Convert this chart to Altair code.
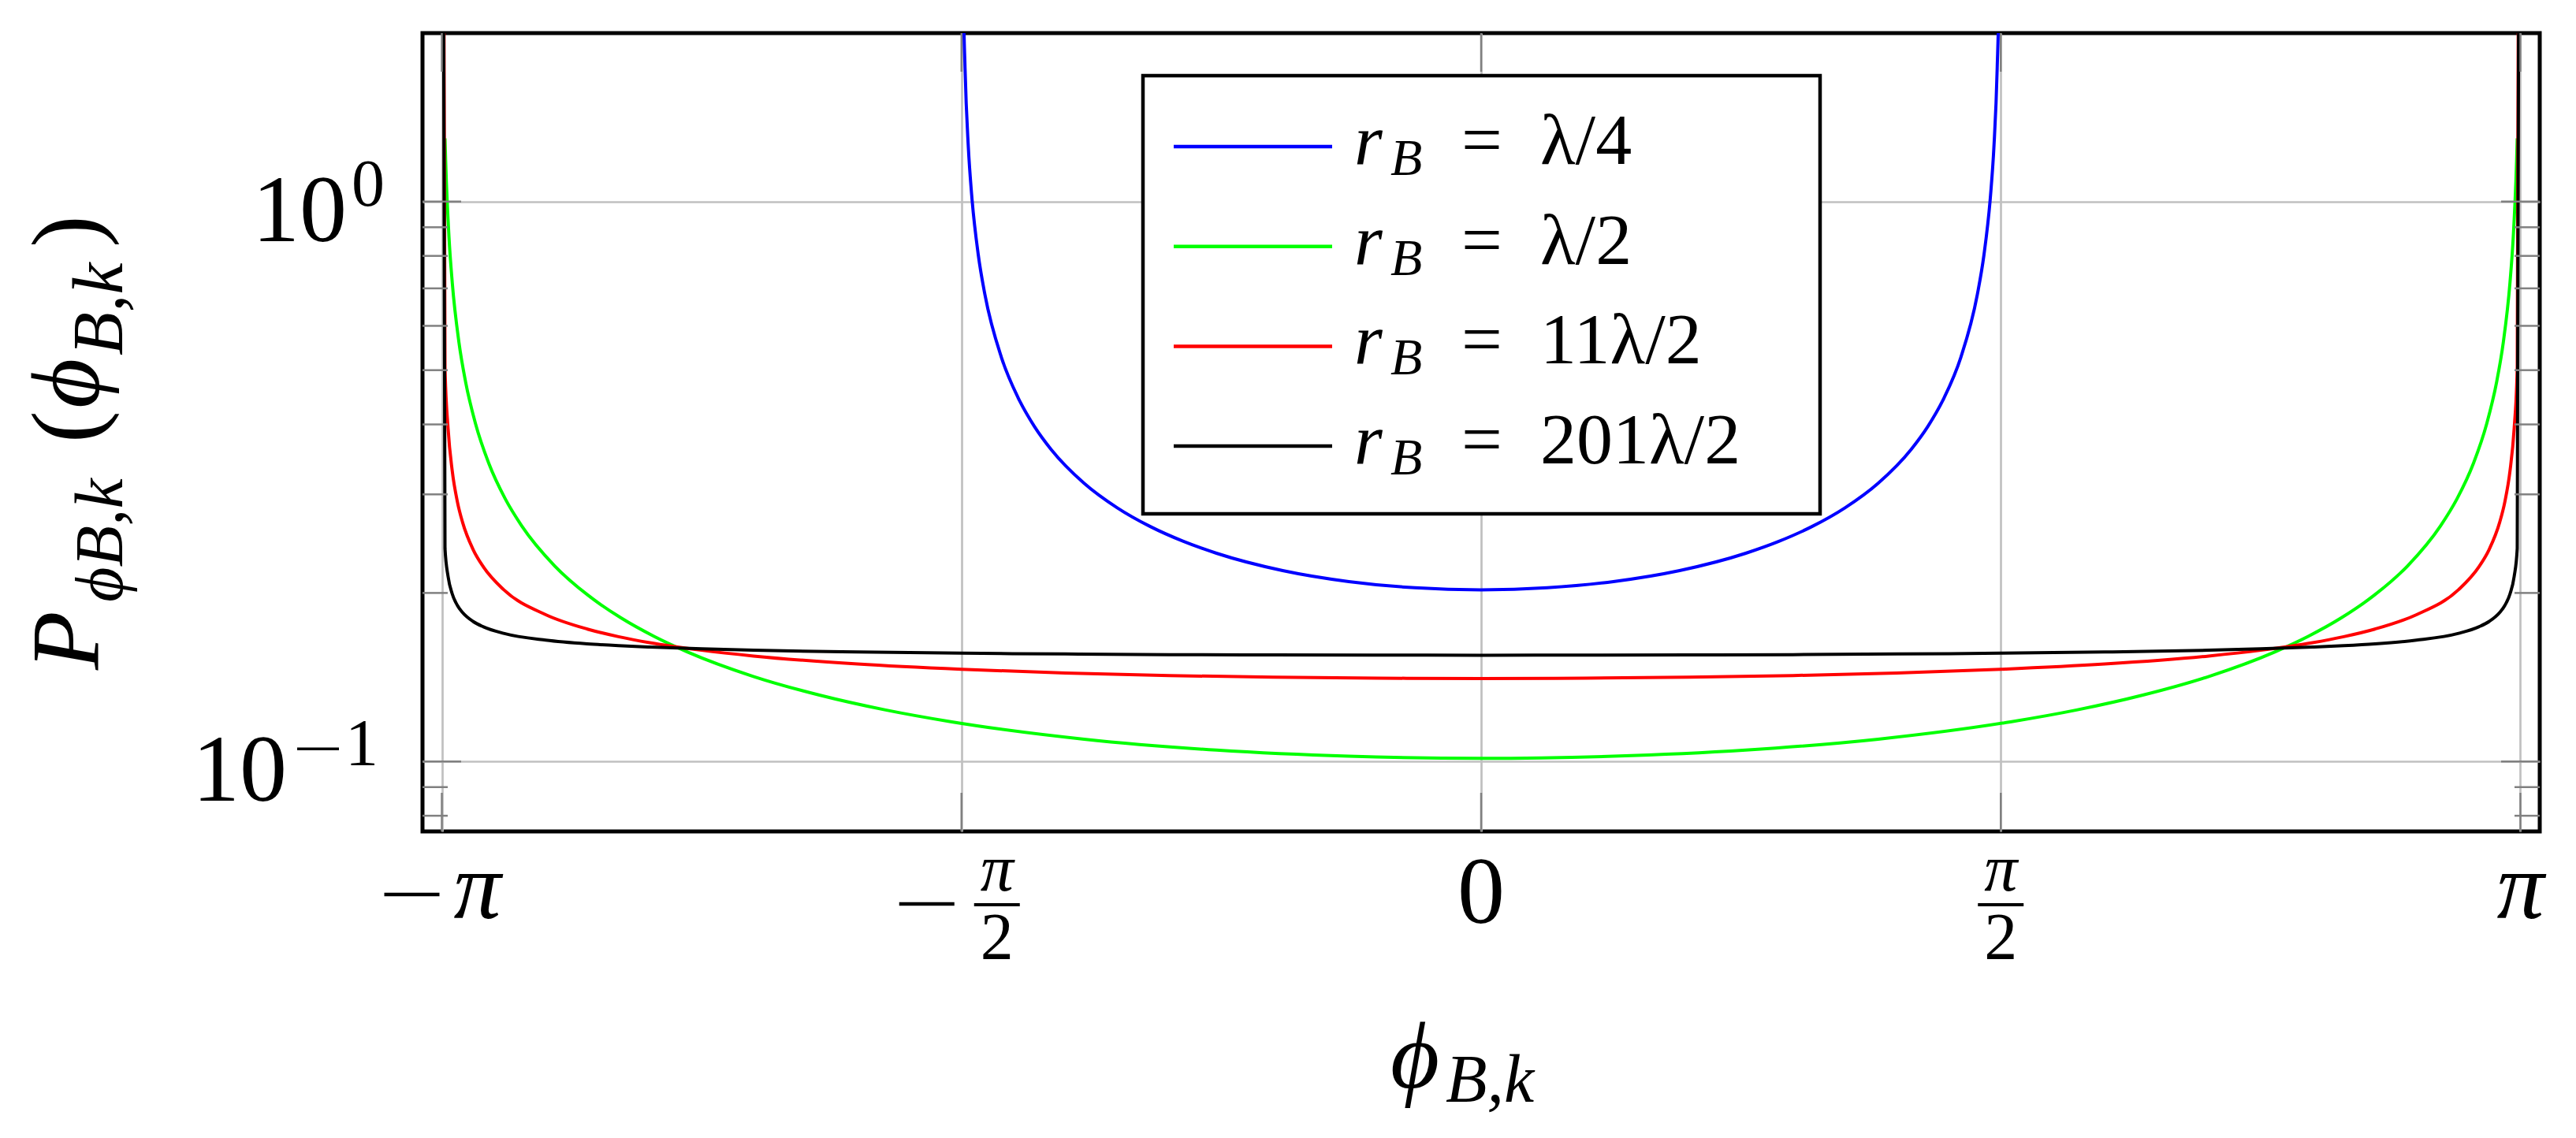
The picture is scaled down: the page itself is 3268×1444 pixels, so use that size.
import altair as alt
import pandas as pd

# ---------------- data ----------------
SERIES = ["rB = λ/4", "rB = λ/2", "rB = 11λ/2", "rB = 201λ/2"]
SERIES_VALUE = ["λ/4", "λ/2", "11λ/2", "201λ/2"]
COLORS = ["#0000ff", "#00ff00", "#ff0000", "#000000"]

BLUE_X = [-1.57, -1.565, -1.56, -1.55, -1.54, -1.52, -1.5, -1.45, -1.4, -1.35, -1.3, -1.2, -1.1, -1.0, -0.9, -0.8,
          -0.6, -0.4, -0.2, 0.0, 0.2, 0.4, 0.6, 0.8, 0.9, 1.0, 1.1, 1.2, 1.3, 1.35, 1.4, 1.45, 1.5, 1.52, 1.54,
          1.55, 1.56, 1.565, 1.57]
BLUE_Y = [6.366, 2.361, 1.7317, 1.2494, 1.0284, 0.8034, 0.6826, 0.5269, 0.4469, 0.3964, 0.3610, 0.3140, 0.2839,
          0.2628, 0.2473, 0.2355, 0.2193, 0.2096, 0.2043, 0.2026, 0.2043, 0.2096, 0.2193, 0.2355, 0.2473, 0.2628,
          0.2839, 0.3140, 0.3610, 0.3964, 0.4469, 0.5269, 0.6826, 0.8034, 1.0284, 1.2494, 1.7317, 2.361, 6.366]

GREEN_X = [-3.132, -3.13, -3.12, -3.11, -3.09, -3.07, -3.04, -3.0, -2.95, -2.9, -2.8, -2.7, -2.6, -2.5, -2.4, -2.2,
           -2.0, -1.8, -1.6, -1.2, -0.8, -0.4, 0.0, 0.4, 0.8, 1.2, 1.6, 1.8, 2.0, 2.2, 2.4, 2.5, 2.6, 2.7, 2.8, 2.9,
           2.95, 3.0, 3.04, 3.07, 3.09, 3.11, 3.12, 3.13, 3.132]
GREEN_Y = [1.2975, 1.1806, 0.8657, 0.7163, 0.5614, 0.4773, 0.4017, 0.3413, 0.2946, 0.2635, 0.2234, 0.1982, 0.1805,
           0.1673, 0.1570, 0.1419, 0.1314, 0.1236, 0.1177, 0.1096, 0.1048, 0.1022, 0.1013, 0.1022, 0.1048, 0.1096,
           0.1177, 0.1236, 0.1314, 0.1419, 0.1570, 0.1673, 0.1805, 0.1982, 0.2234, 0.2635, 0.2946, 0.3413, 0.4017,
           0.4773, 0.5614, 0.7163, 0.8657, 1.1806, 1.2975]

WIDE_X = [-3.1415, -3.132, -3.1227, -3.1102, -3.0945, -3.0788, -3.0473, -3.0159, -2.9549, -2.8274, -2.7018, -2.6075,
          -2.5133, -2.3562, -2.1991, -1.885, -1.5708, -1.2566, -0.9425, -0.6283, -0.3142, 0.0, 0.3142, 0.6283, 0.9425,
          1.2566, 1.5708, 1.885, 2.1991, 2.3562, 2.5133, 2.6075, 2.7018, 2.8274, 2.9549, 3.0159, 3.0473, 3.0788,
          3.0945, 3.1102, 3.1227, 3.132, 3.1415]
RED_Y = [40.0, 0.5055, 0.3934, 0.3306, 0.2909, 0.2673, 0.2393, 0.2226, 0.2028, 0.1829, 0.1724, 0.1671, 0.1630, 0.1580,
         0.1543, 0.1493, 0.1461, 0.1439, 0.1424, 0.1414, 0.1409, 0.1407, 0.1409, 0.1414, 0.1424, 0.1439, 0.1461,
         0.1493, 0.1543, 0.1580, 0.1630, 0.1671, 0.1724, 0.1829, 0.2028, 0.2226, 0.2393, 0.2673, 0.2909, 0.3306,
         0.3934, 0.5055, 40.0]
BLACK_Y = [40.0, 0.2402, 0.2140, 0.1993, 0.1900, 0.1845, 0.1779, 0.1740, 0.1694, 0.1647, 0.1622, 0.1610, 0.1601,
           0.1589, 0.1580, 0.1569, 0.1561, 0.1556, 0.1552, 0.1550, 0.1549, 0.1548, 0.1549, 0.1550, 0.1552, 0.1556,
           0.1561, 0.1569, 0.1580, 0.1589, 0.1601, 0.1610, 0.1622, 0.1647, 0.1694, 0.1740, 0.1779, 0.1845, 0.1900,
           0.1993, 0.2140, 0.2402, 40.0]

XTICK_VALUES = [-3.14159265, -1.57079633, 0.0, 1.57079633, 3.14159265]
XTICK_TEXT = ["−π", "−π/2", "0", "π/2", "π"]
YTICK_VALUES = [1.0, 0.1]
YTICK_EXP = ["0", "−1"]
YMINOR_VALUES = [0.08, 0.09, 0.2, 0.3, 0.4, 0.5, 0.6, 0.7, 0.8, 0.9]

# ---------------- tables ----------------
rows = []
for name, xs, ys in [(SERIES[0], BLUE_X, BLUE_Y), (SERIES[1], GREEN_X, GREEN_Y),
                     (SERIES[2], WIDE_X, RED_Y), (SERIES[3], WIDE_X, BLACK_Y)]:
    for xv, yv in zip(xs, ys):
        rows.append({"series": name, "x": xv, "y": yv})
curve_df = pd.DataFrame(rows)
xt_df = pd.DataFrame({"v": XTICK_VALUES, "label": XTICK_TEXT, "i": list(range(len(XTICK_VALUES)))})
yt_df = pd.DataFrame({"v": YTICK_VALUES, "exp": YTICK_EXP})
ymin_df = pd.DataFrame({"v": YMINOR_VALUES})
leg_df = pd.DataFrame({"series": SERIES, "value": SERIES_VALUE, "i": list(range(len(SERIES)))})
one = pd.DataFrame({"a": [0]})

# ---------------- styling ----------------
W, H = 2686, 1013
FONT = "Liberation Serif, DejaVu Serif, serif"
GRID = "#c0c0c0"
TICK = "#808080"

xscale = alt.Scale(domain=[-3.2, 3.2], nice=False, zero=False)
yscale = alt.Scale(type="log", domain=[0.075, 2.0], nice=False)
xaxis = alt.Axis(values=XTICK_VALUES, grid=True, gridColor=GRID, gridWidth=2.7, labels=False, ticks=False,
                 domain=False, title=None)
yaxis = alt.Axis(values=YTICK_VALUES, grid=True, gridColor=GRID, gridWidth=2.7, labels=False, ticks=False,
                 domain=False, title=None)
cscale = alt.Scale(domain=SERIES, range=COLORS)

X = lambda f: alt.X(f, scale=xscale, axis=xaxis)
Y = lambda f: alt.Y(f, scale=yscale, axis=yaxis)

layers = []

# curves
layers.append(
    alt.Chart(curve_df).mark_line(strokeWidth=4, clip=True, interpolate="monotone").encode(
        x=X("x:Q"), y=Y("y:Q"), color=alt.Color("series:N", scale=cscale, legend=None)
    )
)

# tick marks inside the frame
for x0, x1 in [(0, 32), (W - 32, W)]:
    layers.append(alt.Chart(ymin_df).mark_rule(color=TICK, strokeWidth=2.5).encode(
        y=Y("v:Q"), x=alt.value(x0), x2=alt.value(x1)))
for x0, x1 in [(0, 49), (W - 49, W)]:
    layers.append(alt.Chart(yt_df).mark_rule(color=TICK, strokeWidth=2.5).encode(
        y=Y("v:Q"), x=alt.value(x0), x2=alt.value(x1)))
for y0, y1 in [(0, 49), (H - 49, H)]:
    layers.append(alt.Chart(xt_df).mark_rule(color=TICK, strokeWidth=2.5).encode(
        x=X("v:Q"), y=alt.value(y0), y2=alt.value(y1)))

# legend
layers.append(alt.Chart(one).mark_rect(fill="white", stroke="black", strokeWidth=4.5).encode(
    x=alt.value(914), x2=alt.value(1773), y=alt.value(54), y2=alt.value(610)))
for i in range(len(SERIES)):
    ry = 144 + 126.7 * i
    src = alt.Chart(leg_df).transform_filter(alt.datum.i == i)
    layers.append(src.mark_rule(strokeWidth=4.5).encode(
        x=alt.value(953), x2=alt.value(1154), y=alt.value(ry),
        color=alt.Color("series:N", scale=cscale, legend=None)))
    layers.append(src.mark_text(font=FONT, fontSize=92, fontStyle="italic", align="left",
                                baseline="alphabetic").encode(
        x=alt.value(1182), y=alt.value(ry + 22), text=alt.value("r")))
    layers.append(src.mark_text(font=FONT, fontSize=66, fontStyle="italic", align="left",
                                baseline="alphabetic").encode(
        x=alt.value(1228), y=alt.value(ry + 36), text=alt.value("B")))
    layers.append(src.mark_text(font=FONT, fontSize=92, align="left", baseline="alphabetic").encode(
        x=alt.value(1318), y=alt.value(ry + 22), text=alt.value("=")))
    layers.append(src.mark_text(font=FONT, fontSize=92, align="left", baseline="alphabetic").encode(
        x=alt.value(1418), y=alt.value(ry + 22), text="value:N"))

# x tick labels
def xt(i):
    return alt.Chart(xt_df).transform_filter(alt.datum.i == i)

def minus_rule(i, center, half, yy, width=4.5):
    return xt(i).mark_rule(color="black", strokeWidth=width, xOffset=center - half, x2Offset=center + half).encode(
        x=X("v:Q"), x2=alt.X2("v:Q"), y=alt.value(yy))

# -pi
layers.append(minus_rule(0, -38, 35, H + 80))
layers.append(xt(0).mark_text(font=FONT, fontSize=120, fontStyle="italic", align="center",
                              baseline="alphabetic", dx=45).encode(x=X("v:Q"), y=alt.value(H + 110),
                                                                   text=alt.value("π")))
# pi
layers.append(xt(4).mark_text(font=FONT, fontSize=120, fontStyle="italic", align="center",
                              baseline="alphabetic").encode(x=X("v:Q"), y=alt.value(H + 110), text="label:N"))
# 0
layers.append(xt(2).mark_text(font=FONT, fontSize=120, align="center", baseline="alphabetic").encode(
    x=X("v:Q"), y=alt.value(H + 116), text="label:N"))
# -pi/2 and pi/2
layers.append(minus_rule(1, -44, 35, H + 92))
for i, off in ((1, 45), (3, 0)):
    layers.append(xt(i).mark_text(font=FONT, fontSize=84, fontStyle="italic", align="center",
                                  baseline="alphabetic", dx=off).encode(
        x=X("v:Q"), y=alt.value(H + 75), text=alt.value("π")))
    layers.append(minus_rule(i, off, 29, H + 93, width=4))
    layers.append(xt(i).mark_text(font=FONT, fontSize=84, align="center", baseline="alphabetic", dx=off).encode(
        x=X("v:Q"), y=alt.value(H + 162), text=alt.value("2")))

# y tick labels
def yt(v):
    return alt.Chart(yt_df).transform_filter(alt.datum.v == v)

layers.append(yt(1.0).mark_text(font=FONT, fontSize=120, align="right", baseline="alphabetic", dy=50).encode(
    y=Y("v:Q"), x=alt.value(-96), text=alt.value("10")))
layers.append(yt(1.0).mark_text(font=FONT, fontSize=84, align="left", baseline="alphabetic", dy=5).encode(
    y=Y("v:Q"), x=alt.value(-90), text="exp:N"))
layers.append(yt(0.1).mark_text(font=FONT, fontSize=120, align="right", baseline="alphabetic", dy=50).encode(
    y=Y("v:Q"), x=alt.value(-172), text=alt.value("10")))
layers.append(yt(0.1).mark_rule(color="black", strokeWidth=3.5, yOffset=-16).encode(
    y=Y("v:Q"), x=alt.value(-159), x2=alt.value(-106)))
layers.append(yt(0.1).mark_text(font=FONT, fontSize=84, align="right", baseline="alphabetic", dy=5).encode(
    y=Y("v:Q"), x=alt.value(-56), text=alt.value("1")))

# axis titles
def piece(text, x, y, size, italic, angle=0):
    return alt.Chart(one).mark_text(font=FONT, fontSize=size, fontStyle="italic" if italic else "normal",
                                    align="left", baseline="alphabetic", angle=angle).encode(
        x=alt.value(x), y=alt.value(y), text=alt.value(text))

layers.append(piece("ϕ", 1228, 1338, 120, True))
layers.append(piece("B,k", 1298, 1356, 86, True))
layers.append(piece("P", -411, 808, 122, True, 270))
layers.append(piece("ϕB,k", -381, 722, 86, True, 270))
layers.append(piece("(", -411, 520, 122, False, 270))
layers.append(piece("ϕ", -411, 476, 122, True, 270))
layers.append(piece("B,k", -381, 409, 90, True, 270))
layers.append(piece(")", -411, 272, 122, False, 270))

chart = alt.layer(*layers).properties(
    width=W, height=H,
    autosize=alt.AutoSizeParams(type="none"),
    padding={"left": 528, "top": 34, "right": 30, "bottom": 370},
    background="white",
).configure_view(stroke="black", strokeWidth=5)

chart.save("out.html", embed_options={"renderer": "svg", "actions": False})
